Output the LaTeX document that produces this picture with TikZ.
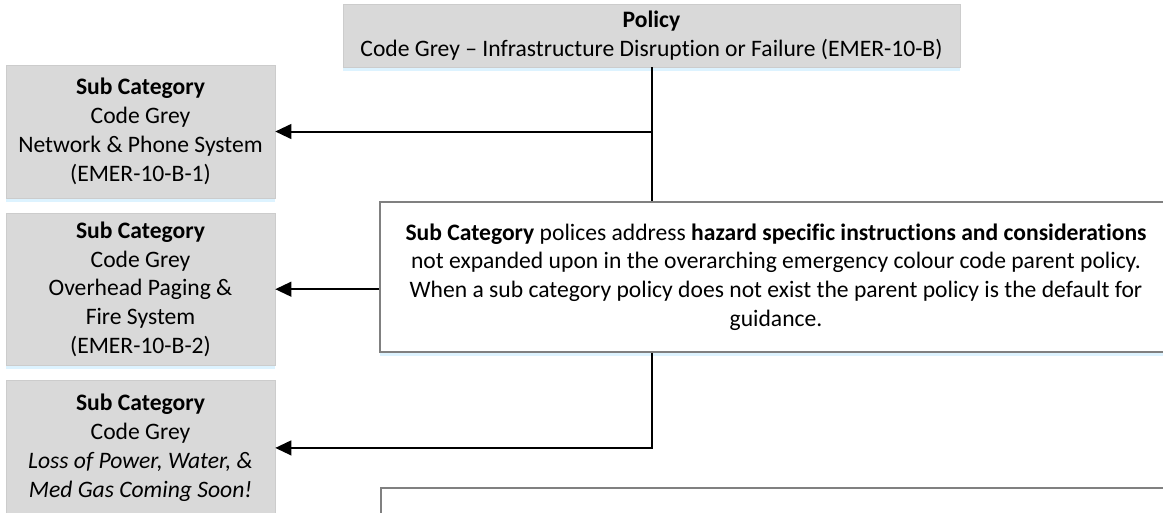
\documentclass[tikz,border=0pt]{standalone}
\usepackage{fontspec}
\setmainfont{Carlito}[Ligatures=NoCommon]
\usepackage{tikz}
\usetikzlibrary{arrows.meta,positioning,shadows}
\tikzset{
     boxShadow/.style =
        { drop shadow={shadow xshift=0pt, shadow yshift=-3pt, fill=blue!35!cyan!22, opacity=0.6}
        },
     policyNode/.style =
        { rectangle
        , draw=black!20
        , fill=black!15
        , line width=0.4pt
        , boxShadow
        , align=center
        , inner sep=0pt
        , font=\fontsize{17.7}{21.6}\selectfont
        %, minimum height=47pt
        },
     subNode/.style =
        { policyNode
        , minimum width=201.75pt
        },
     noteNode/.style =
        { rectangle
        , draw=black!50
        , fill=white
        , line width=1.5pt
        , boxShadow
        , align=center
        , inner sep=0pt
        , minimum width=594pt
        , minimum height=112.5pt
        , font=\fontsize{17.7}{21.6}\selectfont
        }
}

\begin{document}
\begin{tikzpicture}
            [ x=0.75pt
            , y=-0.75pt
            , ->
            , >={Triangle[length=12pt,width=11pt]}
            , line width=1.5pt
            , node distance=11pt
            ]
            \useasboundingbox (0,0) rectangle (1163,512);

            \node[policyNode, minimum width=462.75pt, minimum height=47.25pt] (p) at (651.5,35.5)
                {\textbf{Policy}\\Code Grey – Infrastructure Disruption or Failure (EMER-10-B)};

            \node[subNode, minimum height=99.75pt] (s1) at (140.5,131.5)
                {\textbf{Sub Category}\\Code Grey\\Network \& Phone System\\(EMER-10-B-1)};
            \node[subNode, minimum height=114pt, below=of s1] (s2)
                {\textbf{Sub Category}\\Code Grey\\Overhead Paging \&\\Fire System\\(EMER-10-B-2)};
            \node[subNode, minimum height=101.25pt, below=of s2] (s3)
                {\textbf{Sub Category}\\Code Grey\\\textit{Loss of Power, Water, \&}\\\textit{Med Gas Coming Soon!}};

            \node[noteNode] (n1) at (776,277)
                {\textbf{Sub Category} polices address \textbf{hazard specific instructions and considerations}\\
                 not expanded upon in the overarching emergency colour code parent policy.\\
                 When a sub category policy does not exist the parent policy is the default for\\
                 guidance.};
            \node[noteNode] (n2) at (776.5,563) {};

            % connectors
            \draw[-] (p.south) -- (p.south |- n1.north);
            \draw (p.south |- s1.east) -- (s1.east);
            \draw (n1.west |- s2.east) -- (s2.east);
            \draw (p.south |- n1.south) -- (p.south |- s3.east) -- (s3.east);
\end{tikzpicture}
\end{document}
